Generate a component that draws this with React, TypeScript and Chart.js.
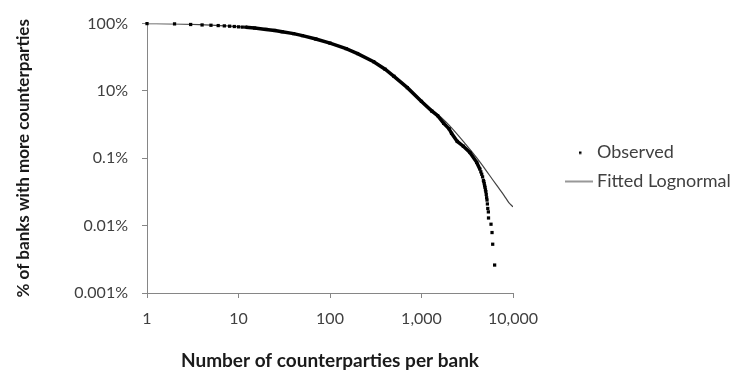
import React, { useEffect, useRef } from 'react';
import { Chart, registerables } from 'chart.js';

Chart.register(...registerables);

// ---- tick values / labels ----
const xTickValues = [1, 10, 100, 1000, 10000];
const xTickLabels = ['1', '10', '100', '1,000', '10,000'];
const yTickValues = [1, 0.1, 0.01, 0.001, 0.0001];
const yTickLabels = ['100%', '10%', '0.1%', '0.01%', '0.001%'];

// ---- observed: separate dots at the head ----
const obsHeadX = [1, 2, 3, 4, 5, 6, 7, 8, 9, 10, 11];
const obsHeadY = [1.0, 0.99, 0.97, 0.955, 0.945, 0.935, 0.925, 0.915, 0.905, 0.895, 0.887];

// ---- observed: dense band ----
const obsBodyX = [12, 15, 20, 25, 30, 40, 50, 70, 100, 150, 200, 300, 400, 500, 700, 1000, 1300, 1500, 1750, 2000, 2130, 2460, 2865, 3380, 4010, 4350];
const obsBodyY = [0.885, 0.86, 0.82, 0.79, 0.758, 0.71, 0.663, 0.59, 0.513, 0.425, 0.359, 0.272, 0.21, 0.165, 0.112, 0.07, 0.05, 0.043, 0.033, 0.0275, 0.0235, 0.0178, 0.0151, 0.0122, 0.0087, 0.0069];

// ---- observed: sparse tail ----
const obsTailX = [4450, 4550, 4650, 4750, 4800, 4850, 4900, 4950, 5000, 5050, 5100, 5150, 5200, 5250, 5300, 5380, 5400, 5750, 5900, 6000, 6300];
const obsTailY = [0.0063, 0.0058, 0.0053, 0.0047, 0.0045, 0.0042, 0.0039, 0.0037, 0.0034, 0.0032, 0.0029, 0.0026, 0.0024, 0.0021, 0.0018, 0.0016, 0.0013, 0.00105, 0.00079, 0.00053, 0.00026];

// ---- fitted lognormal ----
const fitX = [1, 2, 5, 10, 20, 50, 100, 200, 300, 500, 700, 1000, 1500, 2000, 3000, 4000, 5000, 6000, 7000, 8000, 9000, 10000];
const fitY = [1.0, 0.99, 0.95, 0.9, 0.82, 0.66, 0.51, 0.355, 0.27, 0.165, 0.113, 0.072, 0.045, 0.031, 0.0165, 0.0102, 0.0068, 0.0048, 0.0036, 0.0028, 0.0022, 0.0019];

const FONT = 'Lato';

function makeIcon(kind: 'dot' | 'line'): HTMLCanvasElement {
  const c = document.createElement('canvas');
  c.width = 76;
  c.height = 6;
  const g = c.getContext('2d')!;
  if (kind === 'dot') {
    g.fillStyle = '#000';
    g.fillRect(61, 2, 2.5, 2.5);
  } else {
    g.fillStyle = '#333';
    g.fillRect(47, 2.5, 28, 1);
  }
  return c;
}

export default function App() {
  const ref = useRef<HTMLCanvasElement | null>(null);

  useEffect(() => {
    if (!ref.current) return;
    const icons = [makeIcon('dot'), makeIcon('line')];
    const headLen = obsHeadX.length;
    const bodyLen = obsBodyX.length;

    const observed = [
      ...obsHeadX.map((x, i) => ({ x, y: obsHeadY[i] })),
      ...obsBodyX.map((x, i) => ({ x, y: obsBodyY[i] })),
      ...obsTailX.map((x, i) => ({ x, y: obsTailY[i] })),
    ];
    const fitted = fitX.map((x, i) => ({ x, y: fitY[i] }));

    const chart = new Chart(ref.current, {
      type: 'scatter',
      data: {
        datasets: [
          {
            label: 'Observed',
            data: observed,
            showLine: true,
            borderColor: '#000',
            borderWidth: 3.5,
            backgroundColor: '#000',
            pointStyle: 'rect',
            pointRadius: 2.3,
            pointBorderWidth: 0,
            pointBackgroundColor: '#000',
            clip: false as any,
            segment: {
              borderColor: (ctx: any) =>
                ctx.p0DataIndex >= headLen && ctx.p1DataIndex < headLen + bodyLen ? '#000' : 'rgba(0,0,0,0)',
            },
          } as any,
          {
            label: 'Fitted Lognormal',
            data: fitted,
            showLine: true,
            borderColor: '#444',
            borderWidth: 1.2,
            pointRadius: 0,
            cubicInterpolationMode: 'monotone',
          } as any,
        ],
      },
      options: {
        animation: false,
        responsive: false,
        layout: { padding: 0 },
        plugins: {
          tooltip: { enabled: false },
          legend: {
            position: 'right',
            align: 'start',
            maxWidth: 221,
            title: { display: true, text: '', font: { size: 10 }, padding: { top: 120.5, bottom: 0 } },
            labels: {
              usePointStyle: true,
              pointStyleWidth: 64,
              padding: 11,
              color: '#404040',
              font: { family: FONT, size: 18 },
              generateLabels: (c: any) => {
                const items = (Chart as any).defaults.plugins.legend.labels.generateLabels(c);
                return items.map((it: any, i: number) => ({ ...it, pointStyle: icons[i] }));
              },
            },
          },
        },
        scales: {
          x: {
            type: 'logarithmic',
            position: 'bottom',
            min: 1,
            max: 10000,
            afterBuildTicks: (s: any) => {
              s.ticks = xTickValues.map((v) => ({ value: v }));
            },
            afterFit: (s: any) => {
              s.height = 77;
            },
            ticks: {
              autoSkip: false,
              maxRotation: 0,
              padding: 11,
              color: '#404040',
              font: { family: FONT, size: 16 },
              callback: (_v: any, i: number) => xTickLabels[i],
            },
            grid: { display: true, drawOnChartArea: false, drawTicks: true, tickLength: 5, color: '#868686' },
            border: { display: true, color: '#868686', width: 1 },
            title: {
              display: true,
              text: 'Number of counterparties per bank',
              color: '#1a1a1a',
              font: { family: FONT, size: 19, weight: 'bold', lineHeight: 1.0 },
              padding: { top: 0, bottom: 0 },
            },
          },
          y: {
            type: 'logarithmic',
            min: 0.0001,
            max: 1,
            afterBuildTicks: (s: any) => {
              s.ticks = yTickValues.map((v) => ({ value: v }));
            },
            afterFit: (s: any) => {
              s.width = 147;
            },
            ticks: {
              autoSkip: false,
              padding: 14,
              color: '#404040',
              font: { family: FONT, size: 16 },
              callback: (_v: any, i: number) => yTickLabels[i],
            },
            grid: { display: true, drawOnChartArea: false, drawTicks: true, tickLength: 5, color: '#868686' },
            border: { display: true, color: '#868686', width: 1 },
            title: {
              display: true,
              text: '% of banks with more counterparties',
              color: '#1a1a1a',
              font: { family: FONT, size: 17, weight: 'bold' },
              padding: { top: 13, bottom: 0 },
            },
          },
        },
      } as any,
    });
    return () => chart.destroy();
  }, []);

  return (
    <div style={{ position: 'absolute', left: 0, top: 0, width: 734, height: 370, background: '#fff' }}>
      <canvas ref={ref} width={734} height={370} style={{ display: 'block' }} />
    </div>
  );
}
